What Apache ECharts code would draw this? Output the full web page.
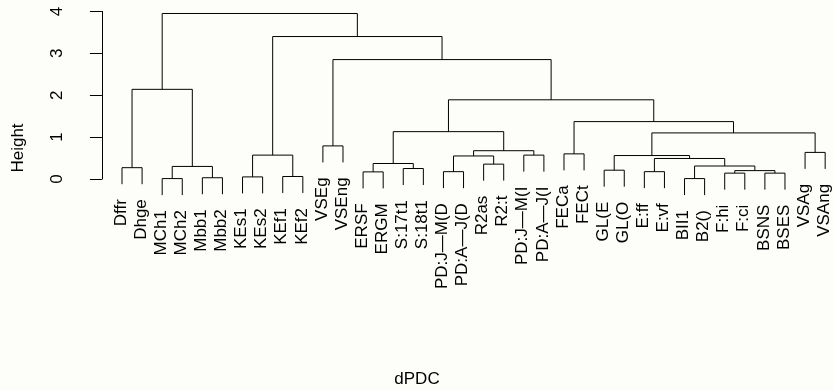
<!DOCTYPE html>
<html>
<head>
<meta charset="utf-8">
<script src="https://cdn.jsdelivr.net/npm/echarts@6/dist/echarts.min.js"></script>
<style>
html,body{margin:0;padding:0;background:#fdfdfa;}
#main{width:834px;height:390px;}
</style>
</head>
<body>
<div id="main"></div>
<script>
// leaves, in the order they are drawn from left to right
var labels=['Dffr','Dhge','MCh1','MCh2','Mbb1','Mbb2','KEs1','KEs2','KEf1','KEf2',
	'VSEg','VSEng','ERSF','ERGM','S:17t1','S:18t1','PD:J\u2014M(D','PD:A\u2014J(D','R2as','R2:t',
	'PD:J\u2014M(I','PD:A\u2014J(I','FECa','FECt','GL(E','GL(O','E:ff','E:vf','BII1','B2()',
	'F:hi','F:ci','BSNS','BSES','VSAg','VSAng'];

// merge table like hclust: negative = leaf number, positive = earlier merge row
var mergeA=[-3,-5,-29,-7,-9,-31,-33,-13,-17,-27,6,-25,-15,-1,1,3,-19,8,10,9,12,-21,4,-23,-35,20,-11,21,18,24,29,14,27,23,32];
var mergeB=[-4,-6,-30,-8,-10,-32,-34,-14,-18,-28,7,-26,-16,-2,2,11,-20,13,16,17,19,-22,5,-24,-36,22,-12,25,26,28,30,15,31,33,34];
var heights=[0.01,0.03,0.01,0.05,0.06,0.14,0.14,0.17,0.175,0.175,0.20,0.21,0.25,0.27,0.30,0.31,0.355,0.37,0.49,0.55,
	0.56,0.57,0.57,0.60,0.635,0.675,0.79,1.10,1.13,1.37,1.89,2.14,2.85,3.40,3.95];

var yTicks=[0,1,2,3,4];
var hang=0.1;

var font="'Liberation Sans', Arial, Helvetica, sans-serif";

//计算节点位置
var hmax=Math.max.apply(null,heights),hmin=Math.min.apply(null,heights);
var hangH=hang*(hmax-hmin);
var nodeX=[];
var segs=[],leafEnds=[];
for (var i = 0; i < mergeA.length; i++) {
	var a=mergeA[i],b=mergeB[i],h=heights[i];
	var xa,ya,xb,yb;
	if (a<0) { xa=-a; ya=h-hangH; leafEnds.push([-a,ya]); }
	else { xa=nodeX[a-1]; ya=heights[a-1]; }
	if (b<0) { xb=-b; yb=h-hangH; leafEnds.push([-b,yb]); }
	else { xb=nodeX[b-1]; yb=heights[b-1]; }
	nodeX.push((xa+xb)/2);
	segs.push([xa,ya,xb,yb,h]);
}

function drawMerge(params,api){
	var xa=api.value(0),ya=api.value(1),xb=api.value(2),yb=api.value(3),h=api.value(4);
	return {
		type:'polyline',
		shape:{points:[api.coord([xa,ya]),api.coord([xa,h]),api.coord([xb,h]),api.coord([xb,yb])]},
		style:{stroke:'#000',lineWidth:1,fill:null}
	};
}

function drawLabel(params,api){
	var p=api.coord([api.value(0),api.value(1)]);
	return {
		type:'text',
		x:p[0]-1,
		y:p[1]+15,
		rotation:Math.PI/2,
		style:{text:labels[api.value(0)-1],font:'17px '+font,fill:'#000',align:'right',verticalAlign:'middle'}
	};
}

myChart=echarts.init(document.getElementById('main'),null,{renderer:'canvas'});
myChart.setOption({
	backgroundColor:'#fdfdfa',
	animation:false,
	grid:{left:93,right:0,top:11.4,bottom:211},
	xAxis:{type:'value',min:-0.4435,max:36.44,show:false},
	yAxis:{
		type:'value',min:yTicks[0],max:yTicks[yTicks.length-1],interval:1,
		axisLine:{show:true,lineStyle:{color:'#000',width:1}},
		axisTick:{show:true,length:12,lineStyle:{color:'#000'}},
		axisLabel:{rotate:90,margin:27,fontSize:17,fontFamily:font,color:'#000'},
		splitLine:{show:false}
	},
	graphic:[
		{type:'text',x:18,y:148,rotation:Math.PI/2,style:{text:'Height',font:'17px '+font,fill:'#000',align:'center',verticalAlign:'middle'}},
		{type:'text',left:'center',top:371,style:{text:'dPDC',font:'17px '+font,fill:'#000'}}
	],
	series:[
		{type:'custom',renderItem:drawMerge,data:segs,clip:false,silent:true},
		{type:'custom',renderItem:drawLabel,data:leafEnds,clip:false,silent:true}
	]
});
</script>
</body>
</html>
